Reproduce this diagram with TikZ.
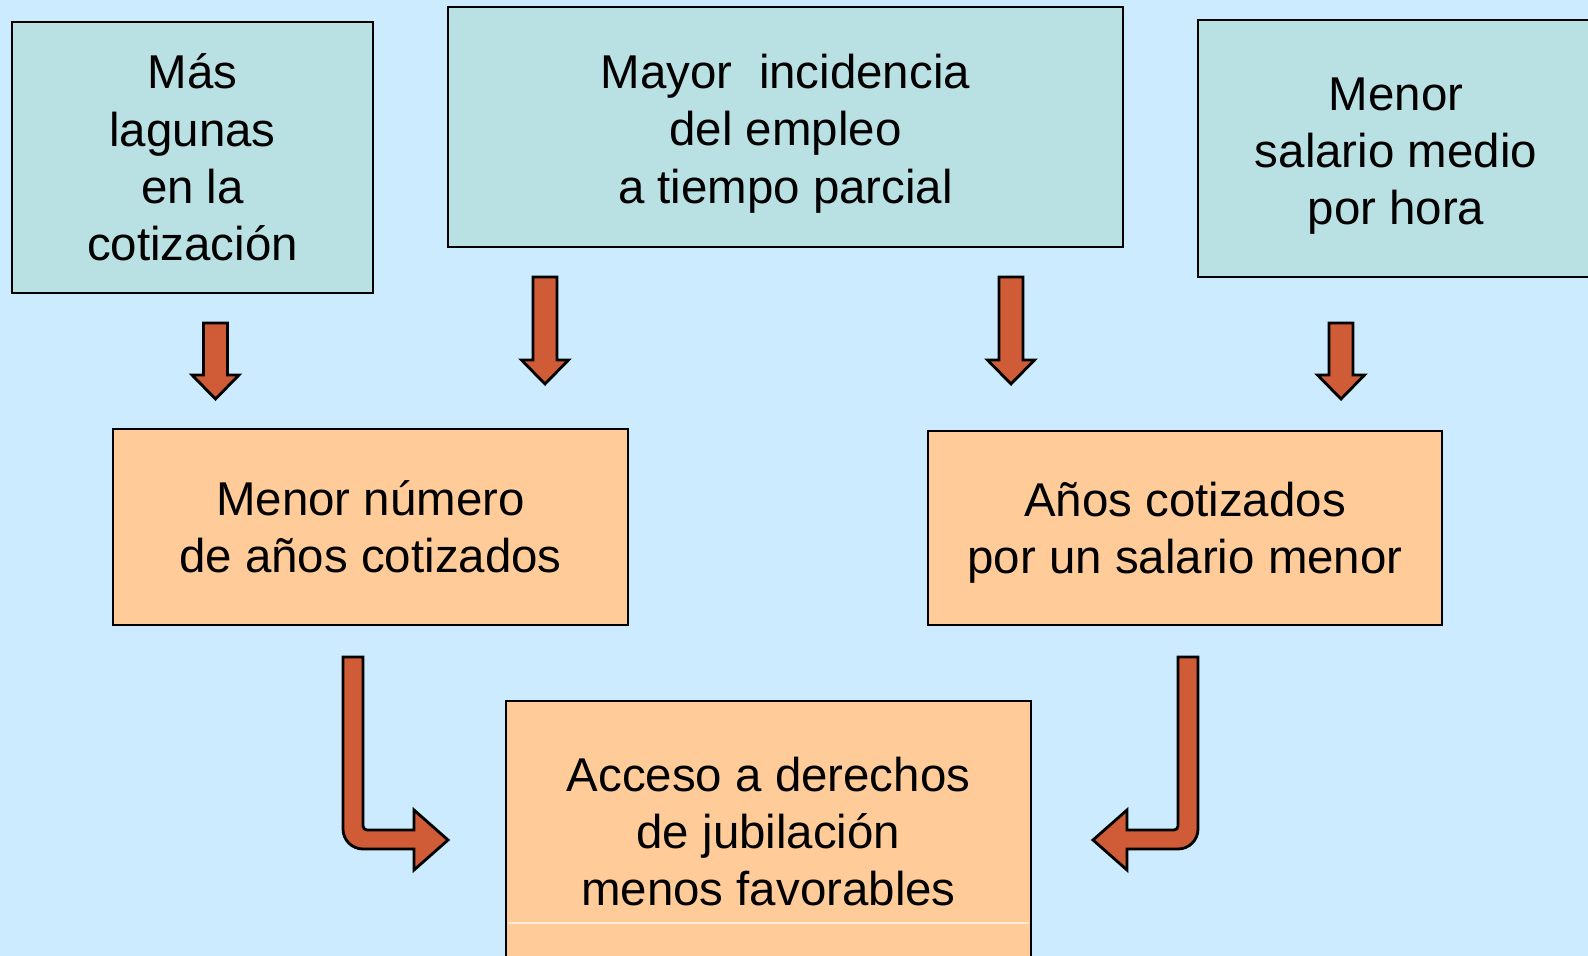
\documentclass[tikz,border=0pt]{standalone}
\usepackage{fontspec}
\setmainfont{Liberation Sans}
\definecolor{fondo}{RGB}{204,235,255}
\definecolor{cajaverde}{RGB}{185,224,227}
\definecolor{cajanaranja}{RGB}{255,204,153}
\definecolor{flecha}{RGB}{207,92,54}
\tikzset{
	caja/.style={draw=black, line width=0.8pt, align=center, inner sep=0pt,
		font=\fontsize{13.5pt}{16.3pt}\selectfont},
	causa/.style={caja, fill=cajaverde},
	efecto/.style={caja, fill=cajanaranja},
	bloque/.style={draw=black, line width=0.8pt, fill=flecha, line join=miter}
}
\begin{document}
\begin{tikzpicture}
	\fill[fondo] (0,0) rectangle (15.88,-9.56);
	\useasboundingbox (0,0) rectangle (15.88,-9.56);
	\clip (0,0) rectangle (15.88,-9.56);

	\node[causa, minimum width=3.61cm, minimum height=2.71cm] (lagunas) at (1.925,-1.575) {Más\\lagunas\\en la\\cotización};
	\node[causa, minimum width=6.75cm, minimum height=2.40cm] (parcial) at (7.855,-1.27) {\rule{0pt}{13.5pt}Mayor~ incidencia\\del empleo\\a tiempo parcial};
	\node[causa, minimum width=3.96cm, minimum height=2.57cm] (salario) at (13.96,-1.485) {\rule{0pt}{13.7pt}Menor\\salario medio\\por hora};

	\node[efecto, minimum width=5.15cm, minimum height=1.96cm] (anios) at (3.705,-5.27) {Menor número\\de años cotizados};
	\node[efecto, minimum width=5.14cm, minimum height=1.94cm] (menor) at (11.85,-5.28) {\rule{0pt}{12.6pt}Años cotizados\\por un salario menor};
	\node[efecto, minimum width=5.25cm, minimum height=2.61cm] (acceso) at (7.685,-8.315) {Acceso a derechos\\de jubilación\\menos favorables};
	\draw[cajanaranja!40!white, line width=0.4pt] (5.08,-9.23) -- (10.29,-9.23);

	% flechas hacia abajo
	\foreach \x/\a/\b in {2.155/3.23/3.99, 5.45/2.77/3.84, 10.11/2.77/3.84, 13.41/3.23/3.99}
		\draw[bloque] (\x-0.12,-\a) -- (\x+0.12,-\a) -- (\x+0.12,-\b+0.24) -- (\x+0.235,-\b+0.24)
			-- (\x,-\b) -- (\x-0.235,-\b+0.24) -- (\x-0.12,-\b+0.24) -- cycle;

	% flechas dobladas
	\draw[bloque] (3.63,-6.57) -- (3.43,-6.57) -- (3.43,-8.29) arc[start angle=180, end angle=270, radius=0.2]
		-- (4.14,-8.49) -- (4.14,-8.70) -- (4.48,-8.40) -- (4.14,-8.10) -- (4.14,-8.30)
		-- (3.67,-8.30) arc[start angle=270, end angle=180, radius=0.04] -- cycle;
	\draw[bloque] (11.78,-6.57) -- (11.98,-6.57) -- (11.98,-8.29) arc[start angle=0, end angle=-90, radius=0.2]
		-- (11.27,-8.49) -- (11.27,-8.70) -- (10.93,-8.40) -- (11.27,-8.10) -- (11.27,-8.30)
		-- (11.74,-8.30) arc[start angle=-90, end angle=0, radius=0.04] -- cycle;
\end{tikzpicture}
\end{document}
